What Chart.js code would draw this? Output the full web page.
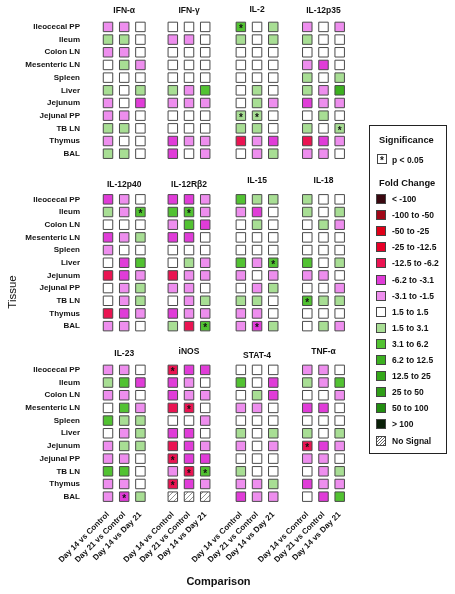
<!DOCTYPE html>
<html>
<head>
<meta charset="utf-8">
<script src="https://cdn.jsdelivr.net/npm/chart.js@4.4.1/dist/chart.umd.min.js"></script>
<style>
  body { margin: 0; background: #fff; }
  #wrap { position: relative; width: 455px; height: 594px; }
  #legend {
    position: absolute; left: 369px; top: 125px; width: 78px; height: 329px;
    border: 1.5px solid #222; box-sizing: border-box;
    font-family: "Liberation Sans", Arial, sans-serif; font-weight: bold; color: #111;
  }
  #legend div { position: absolute; white-space: nowrap; }
  .head { font-size: 9.3px; left: 9px; }
  .sw { width: 10px; height: 10px; border: 1px solid #444; box-sizing: border-box; }
  .lab { font-size: 8.5px; left: 22px; }
</style>
</head>
<body>
<div id="wrap">
  <canvas id="heat" width="455" height="594"></canvas>
  <div id="legend"></div>
</div>
<script>
const tissues = ['Ileocecal PP', 'Ileum', 'Colon LN', 'Mesenteric LN', 'Spleen', 'Liver',
                 'Jejunum', 'Jejunal PP', 'TB LN', 'Thymus', 'BAL'];
const comparisons = ['Day 14 vs Control', 'Day 21 vs Control', 'Day 14 vs Day 21'];
const genes = ['IFN-\u03b1', 'IFN-\u03b3', 'IL-2', 'IL-12p35',
               'IL-12p40', 'IL-12R\u03b22', 'IL-15', 'IL-18',
               'IL-23', 'iNOS', 'STAT-4', 'TNF-\u03b1'];
const foldBins = ['< -100', '-100 to -50', '-50 to -25', '-25 to -12.5', '-12.5 to -6.2',
                  '-6.2 to -3.1', '-3.1 to -1.5', '1.5 to 1.5', '1.5 to 3.1', '3.1 to 6.2',
                  '6.2 to 12.5', '12.5 to 25', '25 to 50', '50 to 100', '> 100', 'No Signal'];

// one string per tissue, three comparisons each
// R = -12.5 to -6.2, M = -6.2 to -3.1, p = -3.1 to -1.5, w = -1.5 to 1.5,
// g = 1.5 to 3.1, G = 3.1 to 6.2, D = 6.2 to 12.5, x = no signal, * = p < 0.05
const ifnA    = ['p p w', 'g g w', 'p p w', 'w g p', 'w w w', 'g w g', 'p w M', 'p p w', 'g g w', 'p w w', 'g g w'];
const ifnG    = ['w w w', 'p p w', 'w w w', 'w w w', 'w w w', 'g p G', 'p p p', 'w w w', 'w w w', 'M p p', 'M w p'];
const il2     = ['G* w g', 'g w g', 'w w w', 'w w w', 'w w w', 'w g w', 'w g p', 'g* g* w', 'g g w', 'R p M', 'w p g'];
const il12p35 = ['p w p', 'g w w', 'w w w', 'p M w', 'g w g', 'g p D', 'M p p', 'w g w', 'g w g*', 'R M p', 'p p w'];
const il12p40 = ['M p w', 'g p G*', 'w w w', 'M p g', 'p w w', 'w M G', 'R M p', 'w p g', 'w p g', 'R M p', 'p p w'];
const il12rb2 = ['M M p', 'G G* p', 'p G M', 'M M w', 'w w w', 'w g p', 'R p p', 'p p w', 'w p g', 'M p p', 'g R G*'];
const il15    = ['G g g', 'p M w', 'w g w', 'w w w', 'w w w', 'G p G*', 'p w p', 'w p g', 'g g w', 'p p w', 'p M* g'];
const il18    = ['g w w', 'g w g', 'w g p', 'w w w', 'w w w', 'G w g', 'p p w', 'w w p', 'G* g g', 'w w w', 'w g p'];
const il23    = ['p p w', 'g G M', 'p p w', 'w G p', 'G g g', 'w p g', 'p g g', 'p p w', 'G G w', 'p p w', 'p M* g'];
const inos    = ['R* M M', 'M p w', 'M p p', 'R R* w', 'w w p', 'M M w', 'R M p', 'R* M M', 'p R* G*', 'R* M p', 'x x x'];
const stat4   = ['w w w', 'G w M', 'w g M', 'p p w', 'w w w', 'g w g', 'p w p', 'w w w', 'g w w', 'p p g', 'M p p'];
const tnfA    = ['p p w', 'g p G', 'w w p', 'M M w', 'w w w', 'g w g', 'R* M p', 'p p w', 'w p g', 'M p p', 'w M G'];

const panels = [ifnA, ifnG, il2, il12p35, il12p40, il12rb2, il15, il18, il23, inos, stat4, tnfA];
const classBin = { R: 4, M: 5, p: 6, w: 7, g: 8, G: 9, D: 10, x: 15 };

// layout (axis units)
const colOffsets = [0, 4.0, 8.2, 12.3];
const rowOffsets = [0, 13.6, 27.05];
const titleLift = [16, 16, 17, 16, 15, 15, 19, 19, 16, 18, 14, 18];
const binColors = ['#3a0810', '#a00818', '#e00018', '#e80028', '#ea1452', '#e03cd8', '#ee8eee', '#ffffff',
                   '#a8de94', '#52c232', '#3cb020', '#34a81a', '#2f9e18', '#228e10', '#0a2008'];
const font = '"Liberation Sans", Arial, sans-serif';

function hatchFill() {
  const c = document.createElement('canvas');
  c.width = 5; c.height = 5;
  const g = c.getContext('2d');
  g.fillStyle = '#fff';
  g.fillRect(0, 0, 5, 5);
  g.strokeStyle = '#777';
  g.lineWidth = 0.8;
  g.beginPath();
  g.moveTo(0, 5); g.lineTo(5, 0);
  g.moveTo(-1, 1); g.lineTo(1, -1);
  g.moveTo(4, 6); g.lineTo(6, 4);
  g.stroke();
  return g.createPattern(c, 'repeat');
}
const hatch = hatchFill();

const datasets = panels.map(function (rows, k) {
  const pts = [], fills = [];
  rows.forEach(function (row, i) {
    row.split(' ').forEach(function (cell, j) {
      pts.push({ x: colOffsets[k % 4] + j, y: rowOffsets[Math.floor(k / 4)] + i, sig: cell.indexOf('*') > -1 });
      const bin = classBin[cell[0]];
      fills.push(bin === 15 ? hatch : binColors[bin]);
    });
  });
  return {
    label: genes[k], data: pts, backgroundColor: fills,
    borderColor: '#4a4a4a', borderWidth: 1, pointStyle: 'rect', pointRadius: 6.7
  };
});

const xTicks = [], yTicks = [];
colOffsets.forEach(o => comparisons.forEach((c, j) => xTicks.push(o + j)));
rowOffsets.forEach(o => tissues.forEach((t, i) => yTicks.push(o + i)));

const panelDecor = {
  id: 'panelDecor',
  afterDatasetsDraw(chart) {
    const { ctx, scales: { x, y } } = chart;
    ctx.save();
    ctx.fillStyle = '#111';
    ctx.textAlign = 'center';
    ctx.textBaseline = 'middle';
    ctx.font = 'bold 8.5px ' + font;
    genes.forEach(function (g, k) {
      const px = x.getPixelForValue(colOffsets[k % 4] + 1);
      const py = y.getPixelForValue(rowOffsets[Math.floor(k / 4)]) - titleLift[k];
      ctx.fillText(g, px, py);
    });
    // significance marks
    ctx.font = 'bold 10px ' + font;
    chart.data.datasets.forEach(function (ds) {
      ds.data.forEach(function (pt) {
        if (pt.sig) ctx.fillText('*', x.getPixelForValue(pt.x), y.getPixelForValue(pt.y) + 2.5);
      });
    });
    ctx.translate(13, 292);
    ctx.rotate(-Math.PI / 2);
    ctx.font = '11.5px ' + font;
    ctx.fillText('Tissue', 0, 0);
    ctx.restore();
  }
};

new Chart(document.getElementById('heat').getContext('2d'), {
  type: 'scatter',
  data: { datasets: datasets },
  plugins: [panelDecor],
  options: {
    responsive: false,
    animation: false,
    events: [],
    layout: { padding: { top: 5, right: 103, bottom: 0, left: 0 } },
    plugins: { legend: { display: false }, tooltip: { enabled: false } },
    scales: {
      x: {
        type: 'linear', min: -1.42, max: 15.06,
        border: { display: false },
        grid: { display: false, drawTicks: false },
        afterBuildTicks: s => { s.ticks = xTicks.map(v => ({ value: v })); },
        afterFit: s => { s.height = 91; },
        ticks: {
          autoSkip: false, maxRotation: 45, minRotation: 45, padding: 7, color: '#111',
          font: { family: font, size: 8, weight: 'bold' },
          callback: (v, i) => comparisons[i % 3]
        },
        title: {
          display: true, text: 'Comparison', color: '#111',
          font: { family: font, size: 11, weight: 'bold' },
          padding: { top: 0, bottom: 5 }
        }
      },
      y: {
        type: 'linear', reverse: true, min: -1.35, max: 37.55,
        border: { display: false },
        grid: { display: false, drawTicks: false },
        afterBuildTicks: s => { s.ticks = yTicks.map(v => ({ value: v })); },
        afterFit: s => { s.width = 85; },
        ticks: {
          autoSkip: false, padding: 5, color: '#111',
          font: { family: font, size: 8, weight: 'bold' },
          callback: (v, i) => tissues[i % 11]
        }
      }
    }
  }
});

// legend box
const legend = document.getElementById('legend');
function put(cls, top, html, extra) {
  const d = document.createElement('div');
  d.className = cls;
  d.style.top = top + 'px';
  d.innerHTML = html;
  if (extra) Object.assign(d.style, extra);
  legend.appendChild(d);
  return d;
}
put('head', 9, 'Significance');
put('sw', 28, '*', { left: '7px', background: '#fff', fontSize: '10px', textAlign: 'center', lineHeight: '12px' });
put('lab', 29, 'p &lt; 0.05');
put('head', 52, 'Fold Change');
foldBins.forEach(function (b, k) {
  const top = 68 + 16.1 * k;
  const bg = k === 15
    ? 'repeating-linear-gradient(135deg, #fff 0 1.2px, #666 1.2px 2px)'
    : binColors[k];
  put('sw', top, '', { left: '5.5px', background: bg });
  put('lab', top, b.replace('<', '&lt;').replace('>', '&gt;'));
});
</script>
</body>
</html>
